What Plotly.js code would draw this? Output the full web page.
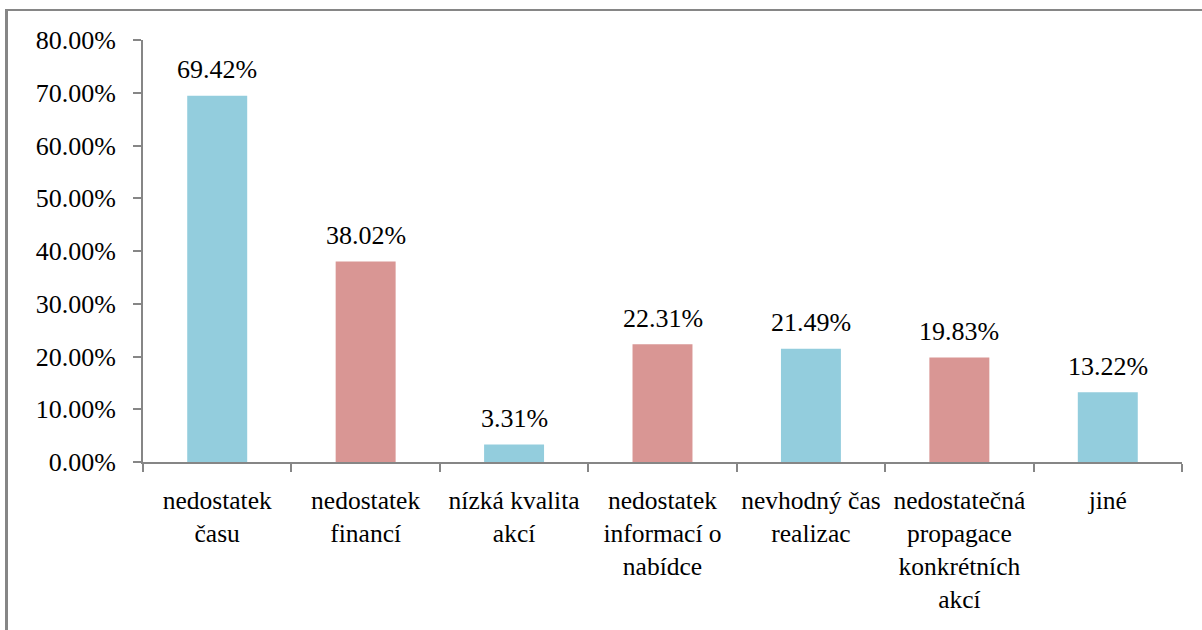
<!DOCTYPE html>
<html>
<head>
<meta charset="utf-8">
<script src="https://cdn.plot.ly/plotly-3.0.1.min.js"></script>
<style>
  html, body { margin: 0; padding: 0; background: #fff; }
  #wrap { position: relative; width: 1202px; height: 630px; }
  #chart { position: absolute; left: 0; top: 0; width: 1202px; height: 630px; }
  #frame { position: absolute; left: 5px; top: 9px; width: 1202px; height: 640px;
           border-top: 2px solid #868686; border-left: 3px solid #868686; pointer-events: none; }
  #warm { position: absolute; left: 0; top: 0; font-family: "Liberation Serif"; font-size: 26px; color: #fff; opacity: 0.01; }
</style>
</head>
<body>
<div id="wrap">
  <div id="warm">0.00% nedostatek času</div>
  <div id="chart"></div>
  <div id="frame"></div>
</div>
<script>
const categories = [
  "nedostatek<br>času",
  "nedostatek<br>financí",
  "nízká kvalita<br>akcí",
  "nedostatek<br>informací o<br>nabídce",
  "nevhodný čas<br>realizac",
  "nedostatečná<br>propagace<br>konkrétních<br>akcí",
  "jiné"
];
const values = [69.42, 38.02, 3.31, 22.31, 21.49, 19.83, 13.22];
const valueLabels = ["69.42%", "38.02%", "3.31%", "22.31%", "21.49%", "19.83%", "13.22%"];
const barColors = ["#93CDDD", "#D99694", "#93CDDD", "#D99694", "#93CDDD", "#D99694", "#93CDDD"];
const yTickVals = [0, 10, 20, 30, 40, 50, 60, 70, 80];
const yTickText = ["0.00%", "10.00%", "20.00%", "30.00%", "40.00%", "50.00%", "60.00%", "70.00%", "80.00%"];

function mkFont(size) { return { family: "Liberation Serif", size: size, color: "#000000" }; }

const trace = {
  type: "bar",
  x: categories,
  y: values,
  marker: { color: barColors, line: { width: 0 } },
  hoverinfo: "none"
};

const annotations = categories.map((c, i) => ({
  x: c, y: values[i], xref: "x", yref: "y",
  text: valueLabels[i], showarrow: false,
  yanchor: "middle", yshift: 26,
  font: mkFont(26)
}));

const layout = {
  width: 1202, height: 630,
  margin: { l: 143, r: 20, t: 39.5, b: 168.3 },
  paper_bgcolor: "#fff", plot_bgcolor: "#fff",
  font: mkFont(26),
  showlegend: false,
  bargap: 0.596,
  xaxis: {
    type: "category",
    showline: true, linecolor: "#868686", linewidth: 2,
    ticks: "outside", tickson: "boundaries", ticklen: 8, tickcolor: "#868686", tickwidth: 2,
    showgrid: false, zeroline: false,
    tickangle: 0,
    tickfont: mkFont(25.5),
    ticklabelstandoff: 14
  },
  yaxis: {
    range: [0, 80],
    tickvals: yTickVals, ticktext: yTickText,
    showline: true, linecolor: "#868686", linewidth: 2,
    ticks: "outside", ticklen: 8, tickcolor: "#868686", tickwidth: 2,
    showgrid: false, zeroline: false,
    tickfont: mkFont(26),
    ticklabelstandoff: 12
  },
  annotations: annotations
};

Plotly.newPlot("chart", [trace], layout, { displayModeBar: false });
</script>
</body>
</html>
